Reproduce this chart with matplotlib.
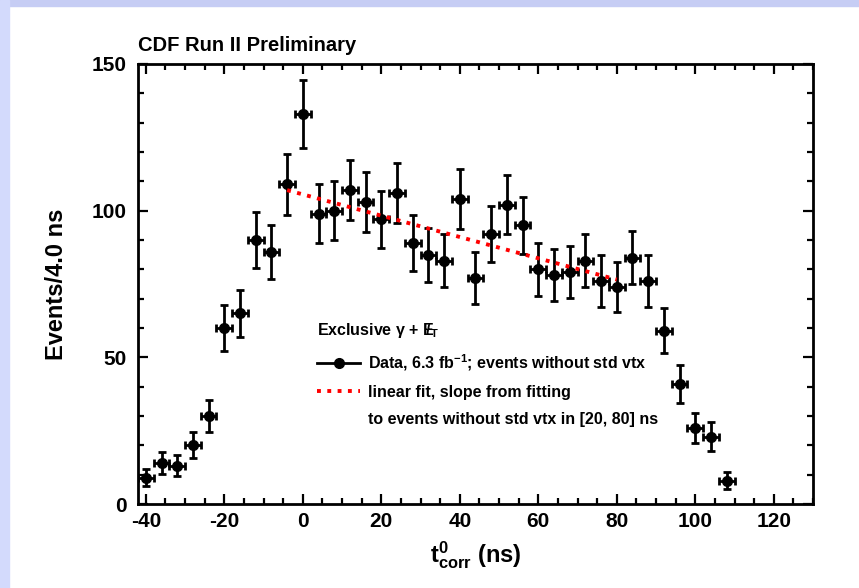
import numpy as np
import matplotlib
matplotlib.use("Agg")
import matplotlib.pyplot as plt
from matplotlib.lines import Line2D
from matplotlib.patches import Rectangle
from matplotlib.ticker import MultipleLocator

plt.rcParams['font.family'] = ['Liberation Sans', 'DejaVu Sans']
plt.rcParams['font.weight'] = 'bold'
plt.rcParams['axes.unicode_minus'] = False
plt.rcParams['mathtext.fontset'] = 'custom'
plt.rcParams['mathtext.rm'] = 'Liberation Sans:bold'
plt.rcParams['mathtext.bf'] = 'Liberation Sans:bold'
plt.rcParams['mathtext.it'] = 'Liberation Sans:bold'
plt.rcParams['mathtext.default'] = 'bf'

# bin centres (ns) and event counts, 4 ns bins
t_corr = [-40, -36, -32, -28, -24, -20, -16, -12, -8, -4, 0, 4, 8, 12, 16,
          20, 24, 28, 32, 36, 40, 44, 48, 52, 56, 60, 64, 68, 72, 76, 80,
          84, 88, 92, 96, 100, 104, 108]
events = [9, 14, 13, 20, 30, 60, 65, 90, 86, 109, 133, 99, 100, 107, 103,
          97, 106, 89, 85, 83, 104, 77, 92, 102, 95, 80, 78, 79, 83, 76, 74,
          84, 76, 59, 41, 26, 23, 8]
bin_half = 2.0

# linear fit line end points
fit_t = [-4, 80]
fit_y = [107, 76.5]

x = np.array(t_corr)
y = np.array(events)
yerr = np.sqrt(y)

fig = plt.figure(figsize=(8.59, 5.88), dpi=100)
# light blue slide border
fig.patches.append(Rectangle((0, 1 - 6/588), 1, 6/588, transform=fig.transFigure,
                             color='#c6cdf4', zorder=0))
fig.patches.append(Rectangle((0, 0), 9/859, 1, transform=fig.transFigure,
                             color='#d3dafc', zorder=0))

ax = fig.add_axes([138/859, 1 - 504/588, 675/859, 440/588])

ax.errorbar(x, y, yerr=yerr, xerr=bin_half, fmt='o', color='black',
            ms=7, elinewidth=2, capsize=3, capthick=2, zorder=3)
fit, = ax.plot(fit_t, fit_y, color='red', ls=':', lw=2.8, zorder=4)

ax.set_xlim(-42, 130)
ax.set_ylim(0, 150)
ax.xaxis.set_major_locator(MultipleLocator(20))
ax.xaxis.set_minor_locator(MultipleLocator(5))
ax.yaxis.set_major_locator(MultipleLocator(50))
ax.yaxis.set_minor_locator(MultipleLocator(10))
ax.tick_params(which='both', direction='in', top=True, right=True, width=1.6,
               labelsize=15)
ax.tick_params(which='major', length=7)
ax.tick_params(which='minor', length=4)
ax.tick_params(axis='y', pad=8)
ax.tick_params(axis='x', pad=6)
for s in ax.spines.values():
    s.set_linewidth(2)

ax.set_ylabel('Events/4.0 ns', fontsize=17, fontweight='bold', labelpad=17)
ax.set_xlabel(r'$t^{0}_{corr}$ (ns)', fontsize=17, fontweight='bold', labelpad=6)
ax.set_title('CDF Run II Preliminary', loc='left', fontsize=14.5,
             fontweight='bold', pad=9)

data_handle = Line2D([], [], color='black', lw=2, marker='o', ms=7)
blank = Line2D([], [], color='none')
leg = ax.legend([data_handle, fit, blank],
                [r'Data, 6.3 fb$^{-1}$; events without std vtx',
                 'linear fit, slope from fitting',
                 'to events without std vtx in [20, 80] ns'],
                title=r'Exclusive $\gamma$ + $E\!\!\!/_{T}$',
                loc='upper left', bbox_to_anchor=(0.256, 0.43),
                frameon=False, borderaxespad=0, handlelength=2.7,
                handletextpad=0.5, labelspacing=0.75,
                prop={'size': 11.5, 'weight': 'bold'},
                title_fontproperties={'size': 11.5, 'weight': 'bold'},
                alignment='left')

fig.savefig('out.png', dpi=100)
